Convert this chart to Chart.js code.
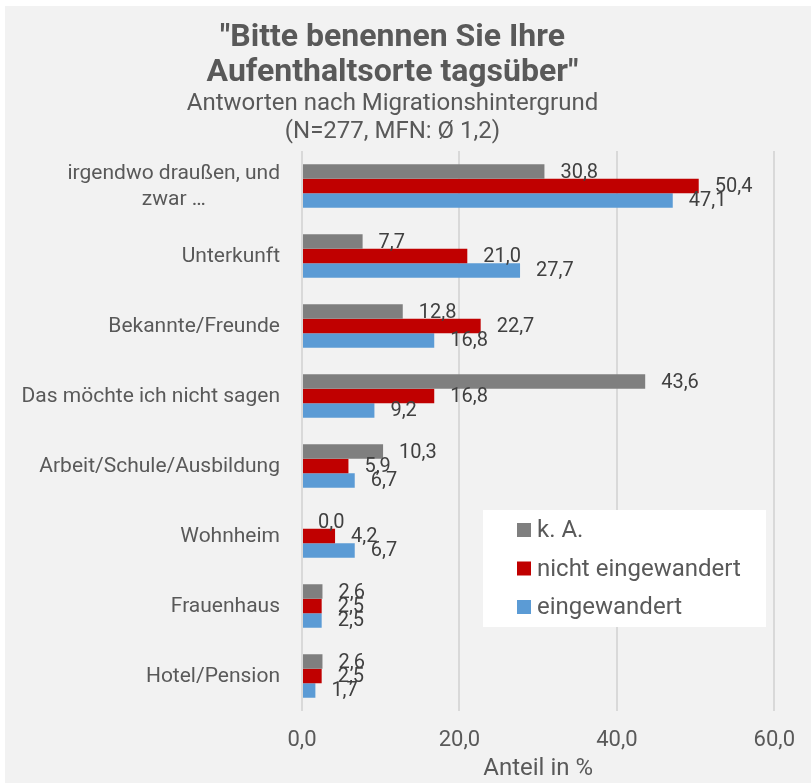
<!DOCTYPE html>
<html>
<head>
<meta charset="utf-8">
<script src="https://cdn.jsdelivr.net/npm/chart.js@4.4.0/dist/chart.umd.min.js"></script>
<style>
  html, body { margin: 0; padding: 0; background: #fff; }
  #wrap { position: absolute; left: 5px; top: 6px; width: 806px; height: 777px; background: #f2f2f2; }
</style>
</head>
<body>
<div id="wrap"><canvas id="chart" width="806" height="777"></canvas></div>
<script>
const categories = [
  ['irgendwo draußen, und', 'zwar …'],
  'Unterkunft',
  'Bekannte/Freunde',
  'Das möchte ich nicht sagen',
  'Arbeit/Schule/Ausbildung',
  'Wohnheim',
  'Frauenhaus',
  'Hotel/Pension'
]
const seriesNames = ['k. A.', 'nicht eingewandert', 'eingewandert']
const keineAngabe = [30.8, 7.7, 12.8, 43.6, 10.3, 0.0, 2.6, 2.6]
const nichtEingewandert = [50.4, 21.0, 22.7, 16.8, 5.9, 4.2, 2.5, 2.5]
const eingewandert = [47.1, 27.7, 16.8, 9.2, 6.7, 6.7, 2.5, 1.7]
const xTicks = [0, 20, 40, 60]

const FONT = "Roboto, 'Open Sans', sans-serif"
const colors = ['#7f7f7f', '#c00000', '#5b9bd5']

const fmt = v => v.toFixed(1).replace('.', ',')

// category labels drawn by hand so the wrapped one can be centred as a block
const categoryLabels = {
  id: 'categoryLabels',
  afterDraw (chart) {
    const ctx = chart.ctx
    const yScale = chart.scales.y
    const right = chart.chartArea.left - 22
    ctx.save()
    ctx.font = '21px ' + FONT
    ctx.fillStyle = '#595959'
    ctx.textAlign = 'center'
    ctx.textBaseline = 'middle'
    chart.data.labels.forEach((label, i) => {
      const lines = Array.isArray(label) ? label : [label]
      const maxW = Math.max(...lines.map(l => ctx.measureText(l).width))
      const y = yScale.getPixelForValue(i)
      lines.forEach((line, k) => {
        ctx.fillText(line, right - maxW / 2, y + (k - (lines.length - 1) / 2) * 26 + 1)
      })
    })
    ctx.restore()
  }
}

const dataLabels = {
  id: 'dataLabels',
  afterDatasetsDraw (chart) {
    const ctx = chart.ctx
    ctx.save()
    ctx.font = '20px ' + FONT
    ctx.fillStyle = '#404040'
    ctx.textAlign = 'left'
    ctx.textBaseline = 'middle'
    chart.data.datasets.forEach((ds, i) => {
      const meta = chart.getDatasetMeta(i)
      meta.data.forEach((bar, j) => {
        ctx.fillText(fmt(ds.data[j]), bar.x + 16, bar.y + 1)
      })
    })
    ctx.restore()
  }
}

const boxLegend = {
  id: 'boxLegend',
  afterDraw (chart) {
    const ctx = chart.ctx
    const area = chart.chartArea
    const left = area.left + 181
    const top = area.bottom - 201
    ctx.save()
    ctx.fillStyle = '#ffffff'
    ctx.fillRect(left, top, 283, 117)
    ctx.font = '24px ' + FONT
    ctx.textAlign = 'left'
    ctx.textBaseline = 'middle'
    chart.data.datasets.forEach((ds, i) => {
      const cy = top + 20 + i * 38.5
      ctx.fillStyle = ds.backgroundColor
      ctx.fillRect(left + 34, cy - 7, 14, 14)
      ctx.fillStyle = '#595959'
      ctx.fillText(ds.label, left + 54, cy + 1)
    })
    ctx.restore()
  }
}

const data = {
  labels: categories,
  datasets: [keineAngabe, nichtEingewandert, eingewandert].map((vals, i) => ({
    label: seriesNames[i],
    data: vals,
    backgroundColor: colors[i],
    barPercentage: 1,
    categoryPercentage: 0.62
  }))
}

new Chart(document.getElementById('chart'), {
  type: 'bar',
  data: data,
  plugins: [dataLabels, categoryLabels, boxLegend],
  options: {
    indexAxis: 'y',
    responsive: false,
    animation: false,
    layout: { padding: { left: 0, right: 31, top: 0, bottom: 0 } },
    plugins: {
      legend: { display: false },
      tooltip: { enabled: false },
      title: {
        display: true,
        text: ['"Bitte benennen Sie Ihre', 'Aufenthaltsorte tagsüber"'],
        color: '#595959',
        font: { family: FONT, size: 32, weight: 'bold', lineHeight: 1.094 },
        padding: { top: 14.5, bottom: 0 }
      },
      subtitle: {
        display: true,
        text: ['Antworten nach Migrationshintergrund', '(N=277, MFN: Ø 1,2)'],
        color: '#595959',
        font: { family: FONT, size: 24, lineHeight: 1.167 },
        padding: { top: -1, bottom: 5.5 }
      }
    },
    scales: {
      x: {
        min: 0,
        max: 60,
        afterBuildTicks: scale => { scale.ticks = xTicks.map(v => ({ value: v })) },
        afterFit: scale => { scale.height = 72 },
        grid: { color: '#d9d9d9', lineWidth: 2, drawTicks: false },
        border: { display: false },
        ticks: {
          padding: 16,
          color: '#595959',
          font: { family: FONT, size: 22 },
          callback: v => fmt(v)
        },
        title: {
          display: true,
          text: 'Anteil in %',
          color: '#595959',
          font: { family: FONT, size: 24, lineHeight: 1.2 },
          padding: { top: 0, bottom: 0 }
        }
      },
      y: {
        afterFit: scale => { scale.width = 297 },
        grid: { display: false, drawTicks: false },
        border: { display: false },
        ticks: { display: false }
      }
    }
  }
})
</script>
</body>
</html>
